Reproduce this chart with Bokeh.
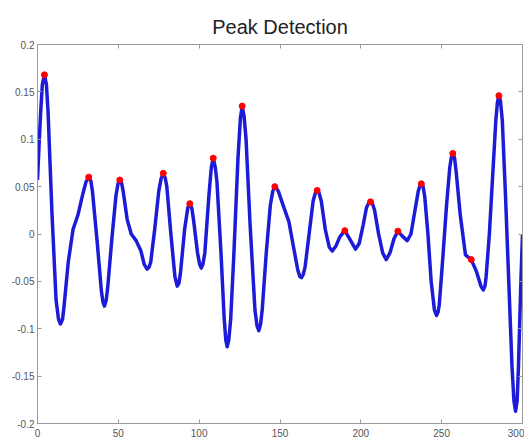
from bokeh.plotting import figure
from bokeh.models import LinearAxis, FixedTicker, CustomJSTickFormatter, ColumnDataSource
from bokeh.embed import file_html
from bokeh.resources import INLINE

# signal
signal_x = [0, 1, 2, 3, 4.3, 5.5, 6.5, 9, 11.5, 13, 14.2, 15.5, 16.5, 19, 22, 25, 28, 30, 31.7,
            33, 34, 37, 39.5, 40.5, 41.4, 42.5, 43.5, 46, 48.5, 49.8, 50.9, 52, 53, 55.5, 58,
            61, 64, 66, 67.8, 69, 70, 72.5, 75, 76.5, 77.8, 79, 80, 82.5, 85, 86.4, 87.5, 88.5,
            91, 93, 94.2, 95.5, 96.5, 99, 100.3, 101.3, 102.3, 103.5, 106, 107.5, 108.7, 110,
            111, 113.5, 115.5, 116.5, 117.3, 118.3, 119.5, 121.5, 124, 125.5, 126.6, 127.8,
            129, 131.5, 134.5, 135.8, 136.9, 138, 139, 141.5, 144, 145.5, 146.8, 148, 149, 152,
            155.5, 158.5, 161, 162.3, 163.3, 164.3, 165.5, 168, 170.5, 172, 173, 174.2, 175.5,
            178, 180.5, 182.3, 184.5, 187, 190.1, 193, 196.7, 199, 201.5, 203.5, 205, 206, 207.2,
            208.5, 211, 213.5, 215.7, 218, 220.5, 222.9, 225.5, 228.7, 231, 233.5, 235.5, 236.5,
            237.4, 238.4, 239.5, 241.5, 243.5, 245.5, 246.8, 247.8, 248.5, 250.5, 253, 255, 256,
            256.9, 258, 259, 261.5, 264.7, 268.3, 271.4, 274.3, 275.7, 276.8, 277.5, 279.5,
            281.5, 283.5, 284.5, 285.4, 286.4, 287.5, 289.5, 291.5, 293.5, 294.7, 295.7, 296.7,
            297.5, 299, 300]
signal_y = [0.057, 0.095, 0.13, 0.158, 0.168, 0.158, 0.13, 0.02, -0.07, -0.09, -0.095, -0.09,
            -0.075, -0.03, 0.005, 0.02, 0.042, 0.055, 0.060, 0.056, 0.045, -0.01, -0.06, -0.072,
            -0.076, -0.07, -0.055, -0.005, 0.04, 0.053, 0.057, 0.054, 0.045, 0.015, 0.0, -0.007,
            -0.018, -0.032, -0.037, -0.035, -0.03, 0.005, 0.045, 0.059, 0.064, 0.059, 0.05, 0.0,
            -0.045, -0.055, -0.052, -0.04, 0.005, 0.028, 0.032, 0.027, 0.015, -0.02, -0.032,
            -0.036, -0.032, -0.02, 0.04, 0.070, 0.080, 0.07, 0.055, -0.02, -0.09, -0.112, -0.119,
            -0.112, -0.09, -0.02, 0.08, 0.122, 0.135, 0.124, 0.1, 0.01, -0.08, -0.097, -0.102,
            -0.095, -0.08, -0.02, 0.03, 0.045, 0.050, 0.048, 0.045, 0.03, 0.013, -0.015, -0.038,
            -0.045, -0.046, -0.043, -0.035, 0.0, 0.035, 0.044, 0.046, 0.043, 0.035, 0.005, -0.014,
            -0.018, -0.013, -0.003, 0.0035, -0.005, -0.016, -0.01, 0.01, 0.028, 0.033, 0.034,
            0.032, 0.025, 0.0, -0.02, -0.027, -0.02, -0.005, 0.003, -0.002, -0.007, 0.0, 0.025,
            0.045, 0.051, 0.053, 0.051, 0.04, 0.0, -0.05, -0.08, -0.086, -0.082, -0.075, -0.03,
            0.03, 0.07, 0.081, 0.085, 0.08, 0.065, 0.02, -0.022, -0.027, -0.039, -0.055, -0.059,
            -0.055, -0.045, 0.0, 0.06, 0.12, 0.139, 0.146, 0.14, 0.12, 0.04, -0.05, -0.14,
            -0.176, -0.187, -0.176, -0.14, -0.05, 0.0]

# detected peaks
peak_x = [4.3, 31.7, 50.9, 77.8, 94.2, 108.7, 126.6, 146.8, 173.0, 190.1, 206.0, 222.9,
          237.4, 256.9, 268.3, 285.4]
peak_y = [0.168, 0.060, 0.057, 0.064, 0.032, 0.080, 0.135, 0.050, 0.046, 0.0035, 0.034,
          0.003, 0.053, 0.085, -0.027, 0.146]

x_ticks = [0, 50, 100, 150, 200, 250, 300]
y_ticks = [-0.2, -0.15, -0.1, -0.05, 0, 0.05, 0.1, 0.15, 0.2]
y_tick_labels = ["-0.2", "-0.15", "-0.1", "-0.05", "0", "0.05", "0.1", "0.15", "0.2"]

FONT = "Liberation Sans"
AXIS_COLOR = "#9a9a9a"

p = figure(width=524, height=439, output_backend="svg", toolbar_location=None,
           x_range=(0, 300), y_range=(-0.2, 0.2),
           min_border_left=37, min_border_right=2, min_border_top=44, min_border_bottom=13,
           title="Peak Detection")
p.title.align = "center"
p.title.text_font = FONT
p.title.text_font_size = "20px"
p.title.text_font_style = "normal"
p.title.text_color = "#222222"
p.title.standoff = 13
p.xgrid.visible = False
p.ygrid.visible = False
p.outline_line_color = AXIS_COLOR
p.background_fill_color = "white"
p.border_fill_color = "white"

def style_axis(ax):
    ax.axis_line_color = AXIS_COLOR
    ax.major_tick_line_color = AXIS_COLOR
    ax.major_tick_in = 4
    ax.major_tick_out = 0
    ax.minor_tick_line_color = None
    ax.major_label_text_font = FONT
    ax.major_label_text_font_size = "10px"
    ax.major_label_text_color = "#555555"

xa = p.xaxis[0]
xa.ticker = FixedTicker(ticks=x_ticks)
style_axis(xa)
xa.major_label_standoff = 5

ya = p.yaxis[0]
ya.ticker = FixedTicker(ticks=y_ticks)
ya.major_label_overrides = dict(zip(y_ticks, y_tick_labels))
style_axis(ya)
ya.major_label_standoff = 3

blank = CustomJSTickFormatter(code="return ''")
ra = LinearAxis(ticker=FixedTicker(ticks=y_ticks), formatter=blank, major_label_standoff=0)
style_axis(ra)
p.add_layout(ra, "right")
ta = LinearAxis(ticker=FixedTicker(ticks=x_ticks), formatter=blank, major_label_standoff=0)
style_axis(ta)
p.add_layout(ta, "above")

src = ColumnDataSource(dict(x=signal_x, y=signal_y))
p.line("x", "y", source=src, line_color="#1c1cd8", line_width=3.5, line_join="round")
p.scatter(peak_x, peak_y, size=6, marker="circle", fill_color="red", line_color="red")

open("out.html", "w").write(file_html(p, INLINE))
